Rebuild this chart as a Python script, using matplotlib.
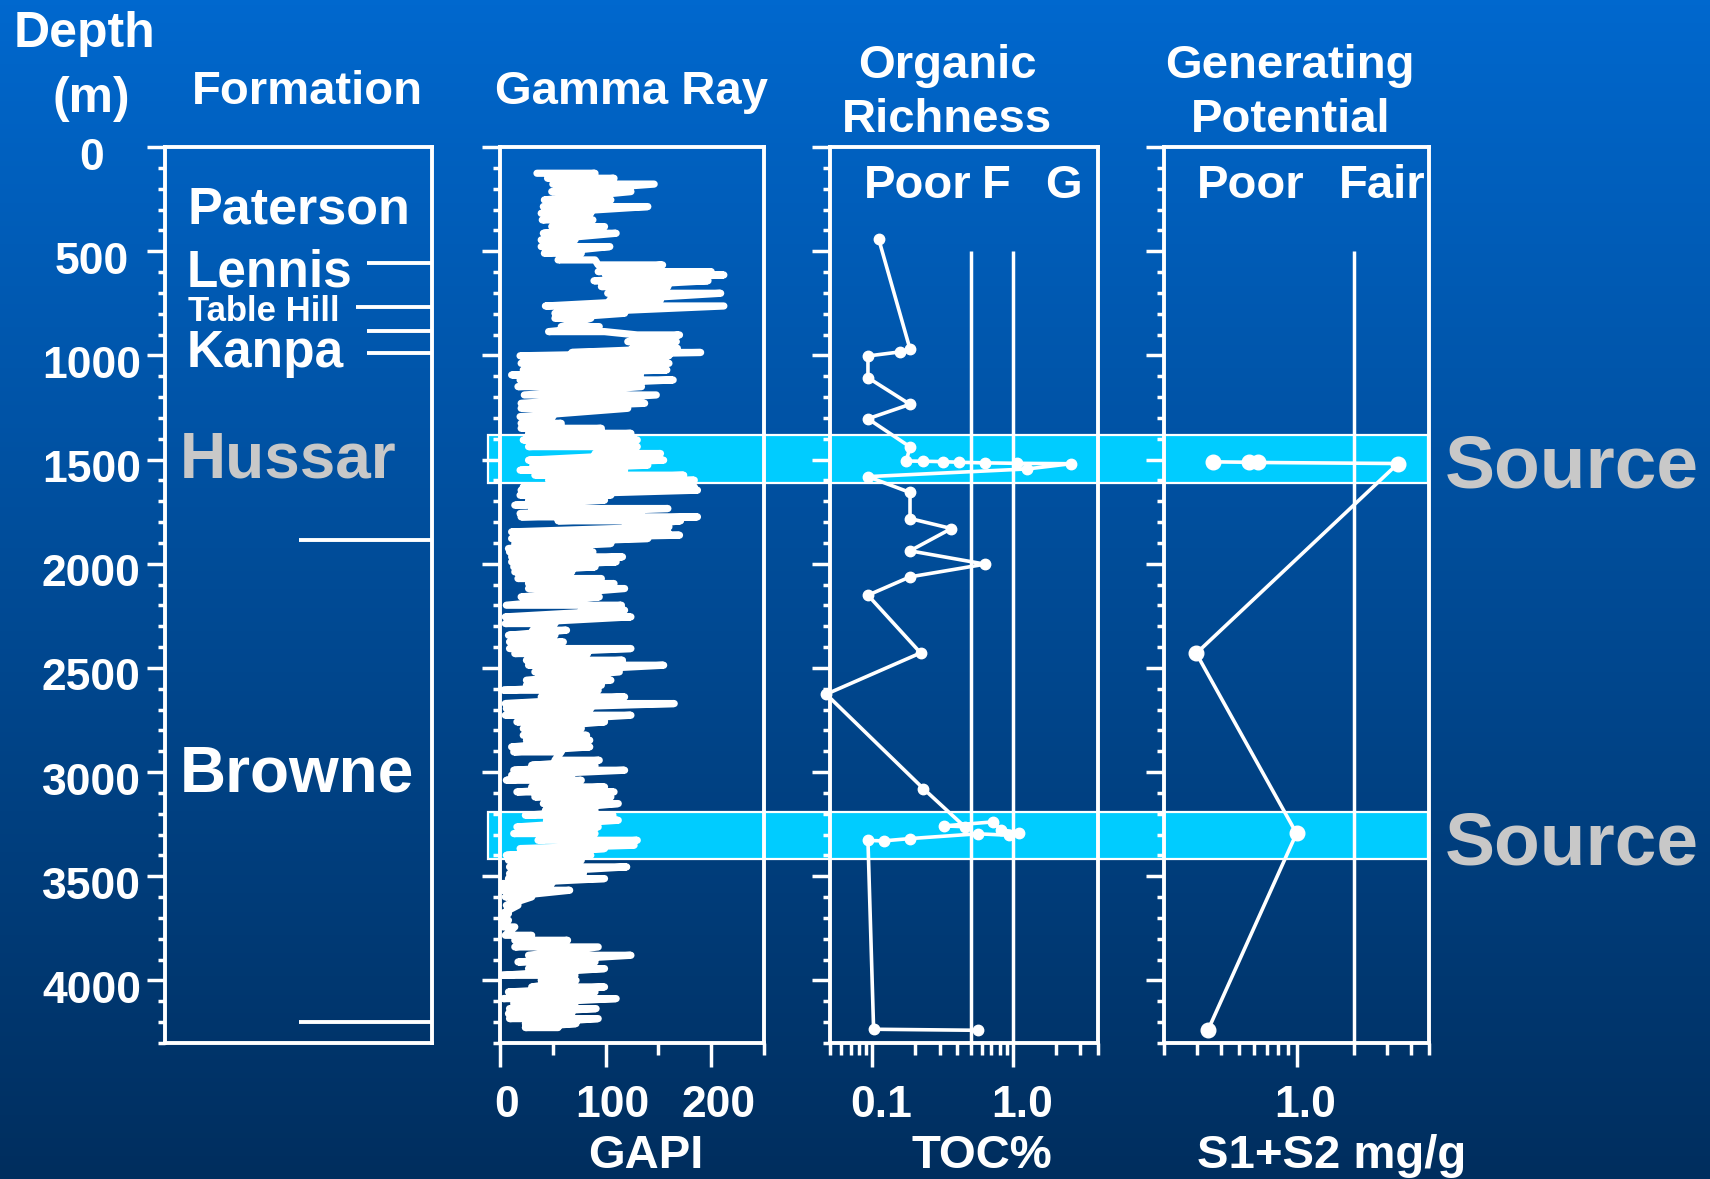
import numpy as np
import matplotlib
matplotlib.use("Agg")
import matplotlib.pyplot as plt
import matplotlib.transforms as mtransforms
from matplotlib.patches import Rectangle
from matplotlib.ticker import FixedLocator, NullFormatter, FixedFormatter

# ---------------- data ----------------
DEPTH_MAX = 4300
DEPTH_TICKS = [0, 500, 1000, 1500, 2000, 2500, 3000, 3500, 4000]
DEPTH_TICK_LABELS = ["0", "500", "1000", "1500", "2000", "2500", "3000", "3500", "4000"]

FORMATION_NAMES = ["Paterson", "Lennis", "Table Hill", "Kanpa", "Hussar", "Browne"]
FORMATION_BOUNDARIES = [557, 768, 883, 988, 1886, 4199]

SOURCE_TOP = [1382, 3191]
SOURCE_BASE = [1612, 3417]
SOURCE_LABELS = ["Source", "Source"]

GR_DEPTH = [126, 150, 178, 214, 254, 286, 318, 350, 382, 414, 446, 478, 510, 542,
            566, 598, 614, 642, 670, 702, 734, 763, 798, 822, 862, 886, 902, 934,
            966, 986, 1002, 1038, 1070, 1094, 1118, 1150, 1190, 1230, 1254, 1294,
            1326, 1350, 1374, 1406, 1438,
            1471, 1503, 1527, 1551, 1575, 1599, 1631, 1647, 1671, 1695, 1719, 1735,
            1759, 1775, 1794, 1823, 1847, 1863, 1879, 1903, 1927, 1943, 1967, 1991,
            2015, 2039, 2071, 2095, 2119, 2159, 2199, 2223, 2255, 2287, 2319, 2343,
            2375, 2407, 2431, 2463, 2487, 2519, 2559, 2583, 2607, 2639, 2671, 2695,
            2727, 2759, 2791, 2823, 2847, 2879,
            2903, 2943, 2967, 2991, 3015, 3039, 3071, 3095, 3119, 3151, 3183, 3207,
            3231, 3263, 3295, 3327, 3351, 3367, 3399, 3423, 3455, 3487, 3511, 3535,
            3567, 3599, 3639, 3679, 3711, 3743, 3783, 3807, 3839, 3879, 3911, 3943,
            3975, 3999, 4031, 4055, 4087, 4111, 4135, 4159, 4183, 4207, 4226]
GR_LOW = [35, 45, 50, 49, 42, 41, 39, 40, 49, 41, 39, 39, 42, 55,
          93, 93, 100, 89, 96, 102, 104, 43, 52, 52, 58, 46, 130, 121,
          125, 68, 19, 20, 22, 11, 19, 17, 23, 20, 20, 19,
          20, 20, 27, 22, 27,
          90, 27, 31, 19, 33, 46, 22, 20, 19, 27, 14, 30,
          19, 20, 55, 118, 11, 93, 11, 14, 8, 9, 11, 11,
          13, 14, 17, 27, 27, 20, 6, 77, 5, 5, 31, 8,
          9, 9, 14, 25, 27, 33, 25, 25, 3, 39, 5, 6,
          5, 16, 22, 22, 25, 11,
          13, 52, 30, 13, 11, 6, 30, 16, 33, 41, 43, 24,
          44, 16, 13, 36, 65, 19, 6, 8, 9, 9, 8, 2,
          2, 5, 6, 2, 2, 3, 5, 14, 14, 27, 17, 27,
          2, 39, 30, 8, 3, 13, 9, 8, 9, 24, 24]
GR_HIGH = [90, 108, 146, 124, 105, 140, 86, 88, 99, 110, 71, 104, 77, 90,
           154, 200, 212, 197, 159, 209, 152, 212, 118, 86, 94, 99, 170, 167,
           168, 190, 160, 160, 158, 133, 164, 134, 148, 137, 121, 50,
           58, 96, 124, 130, 130,
           152, 155, 140, 118, 174, 184, 184, 187, 105, 99, 74, 159,
           134, 187, 171, 160, 159, 170, 140, 105, 71, 88, 116, 110,
           90, 68, 96, 108, 118, 94, 115, 118, 124, 52, 63, 52,
           60, 124, 83, 116, 155, 113, 105, 96, 93, 118, 165, 86,
           124, 99, 77, 82, 85, 85,
           58, 94, 90, 118, 68, 77, 99, 108, 105, 112, 90, 107,
           112, 93, 90, 130, 127, 99, 86, 77, 120, 79, 99, 49,
           66, 30, 17, 8, 8, 14, 30, 64, 93, 124, 90, 99,
           71, 72, 99, 90, 110, 71, 91, 68, 93, 72, 55]
GR_TICKS = [0, 100, 200]
GR_TICK_LABELS = ["0", "100", "200"]

TOC_DEPTH = [443, 970, 983, 1003, 1107, 1235, 1304, 1439, 1507, 1508, 1510, 1513,
             1516, 1518, 1520, 1545, 1582, 1658, 1783, 1831, 1938, 2002, 2063, 2151,
             2428, 2626, 3079, 3262, 3258, 3239, 3276, 3292, 3303, 3296, 3319, 3330,
             3328, 4234, 4239]
TOC = [0.111, 0.185, 0.158, 0.093, 0.093, 0.185, 0.093, 0.185, 0.174, 0.230, 0.318, 0.412,
       0.632, 1.07, 2.57, 1.26, 0.093, 0.185, 0.185, 0.364, 0.185, 0.632, 0.185, 0.093,
       0.22, 0.047, 0.23, 0.452, 0.322, 0.715, 0.819, 1.10, 0.937, 0.56, 0.185, 0.12,
       0.093, 0.102, 0.56]
TOC_CUTOFFS = [0.5, 1.0]
TOC_TICKS = [0.1, 1.0]
TOC_TICK_LABELS = ["0.1", "1.0"]
TOC_CLASSES = ["Poor", "F", "G"]

S1S2_DEPTH = [1511, 1513, 1514, 1519, 2430, 3294, 4236]
S1S2 = [0.363, 0.56, 0.63, 3.43, 0.296, 1.0, 0.342]
S1S2_CUTOFFS = [2.0]
S1S2_TICKS = [1.0]
S1S2_TICK_LABELS = ["1.0"]
S1S2_CLASSES = ["Poor", "Fair"]
CUTOFF_TOP = 500

# ---------------- layout / style ----------------
W, H, DPI = 1710, 1179, 100
plt.rcParams['font.family'] = ['Liberation Sans', 'DejaVu Sans']
plt.rcParams['font.weight'] = 'bold'
WHITE = 'white'
GREY = '#c8c8c8'
CYAN = '#00ccff'
TOP_PX, BOT_PX = 147, 1043

fig = plt.figure(figsize=(W / DPI, H / DPI), dpi=DPI)

# gradient background
bg = fig.add_axes([0, 0, 1, 1], zorder=-10)
t = np.linspace(0, 1, 256)[:, None, None]
c_top = np.array([0, 104, 206]) / 255.0
c_bot = np.array([0, 46, 94]) / 255.0
img = c_top[None, None, :] * (1 - t) + c_bot[None, None, :] * t
img = np.repeat(img, 2, axis=1)
bg.imshow(img, aspect='auto', extent=[0, 1, 0, 1])
bg.set_axis_off()


def panel(x0, x1):
    ax = fig.add_axes([x0 / W, 1 - BOT_PX / H, (x1 - x0) / W, (BOT_PX - TOP_PX) / H], zorder=2)
    ax.patch.set_alpha(0)
    ax.set_ylim(DEPTH_MAX, 0)
    for s in ax.spines.values():
        s.set_color(WHITE)
        s.set_linewidth(2.8)
    ax.yaxis.set_major_locator(FixedLocator(DEPTH_TICKS))
    ax.yaxis.set_minor_locator(FixedLocator(np.arange(0, DEPTH_MAX + 1, 100)))
    ax.yaxis.set_minor_formatter(NullFormatter())
    ax.tick_params(axis='y', which='major', direction='out', length=13, width=2.5,
                   color=WHITE, left=True, right=False, labelleft=False)
    ax.tick_params(axis='y', which='minor', direction='out', length=5, width=2.5,
                   color=WHITE, left=True, right=False)
    ax.tick_params(axis='x', which='major', direction='out', length=17, width=2.5,
                   color=WHITE, labelcolor=WHITE, labelsize=32, pad=13, top=False)
    ax.tick_params(axis='x', which='minor', direction='out', length=8.6, width=2.5,
                   color=WHITE, top=False)
    return ax


ax_f = panel(165, 432)
ax_g = panel(500, 764)
ax_t = panel(830, 1098)
ax_s = panel(1164, 1429)

# formation panel
ax_f.set_xlim(0, 1)
ax_f.set_xticks([])
ax_f.set_yticks(DEPTH_TICKS, DEPTH_TICK_LABELS)
ax_f.tick_params(axis='y', which='major', labelleft=True, labelcolor=WHITE, labelsize=32, pad=40)
line_start = [0.758, 0.717, 0.758, 0.758, 0.502, 0.502]
for d, xs in zip(FORMATION_BOUNDARIES, line_start):
    ax_f.plot([xs, 1.0], [d, d], color=WHITE, lw=2.8, solid_capstyle='butt')
for lab in ax_f.get_yticklabels():
    lab.set_ha('center')
    lab.set_va('center')
off_y = mtransforms.ScaledTranslation(0, -0.11, fig.dpi_scale_trans)
for tk in ax_f.yaxis.get_major_ticks():
    tk.label1.set_transform(tk.label1.get_transform() + off_y)

# gamma ray panel
ax_g.set_xlim(0, 250)
ax_g.xaxis.set_major_locator(FixedLocator(GR_TICKS))
ax_g.xaxis.set_major_formatter(FixedFormatter(GR_TICK_LABELS))
ax_g.xaxis.set_minor_locator(FixedLocator([50, 150, 250]))
gr_x = np.column_stack([GR_LOW, GR_HIGH]).ravel()
gr_y = np.repeat(GR_DEPTH, 2)
ax_g.plot(gr_x, gr_y, color=WHITE, lw=5.2, solid_capstyle='round', solid_joinstyle='round',
          zorder=3)

# TOC panel
ax_t.set_xscale('log')
ax_t.set_xlim(0.05, 4.0)
ax_t.xaxis.set_major_locator(FixedLocator(TOC_TICKS))
ax_t.xaxis.set_major_formatter(FixedFormatter(TOC_TICK_LABELS))
ax_t.xaxis.set_minor_locator(FixedLocator([0.05, 0.06, 0.07, 0.08, 0.09, 0.2, 0.3, 0.4, 0.5,
                                           0.6, 0.7, 0.8, 0.9, 2, 3, 4]))
ax_t.xaxis.set_minor_formatter(NullFormatter())
ax_t.vlines(TOC_CUTOFFS, CUTOFF_TOP, DEPTH_MAX, color=WHITE, lw=2.5)
ax_t.plot(TOC, TOC_DEPTH, color=WHITE, lw=2.6, marker='o', ms=7.5, clip_on=False, zorder=3)

# S1+S2 panel
ax_s.set_xscale('log')
ax_s.set_xlim(0.2, 5.0)
ax_s.xaxis.set_major_locator(FixedLocator(S1S2_TICKS))
ax_s.xaxis.set_major_formatter(FixedFormatter(S1S2_TICK_LABELS))
ax_s.xaxis.set_minor_locator(FixedLocator([0.2, 0.3, 0.4, 0.5, 0.6, 0.7, 0.8, 0.9, 2, 3, 4, 5]))
ax_s.xaxis.set_minor_formatter(NullFormatter())
ax_s.vlines(S1S2_CUTOFFS, CUTOFF_TOP, DEPTH_MAX, color=WHITE, lw=2.5)
ax_s.plot(S1S2, S1S2_DEPTH, color=WHITE, lw=2.6, marker='o', ms=10.5, clip_on=False, zorder=3)

for ax, dx in ((ax_g, 0.07), (ax_t, 0.09), (ax_s, 0.09)):
    off_x = mtransforms.ScaledTranslation(dx, 0, fig.dpi_scale_trans)
    for tk in ax.xaxis.get_major_ticks():
        tk.label1.set_transform(tk.label1.get_transform() + off_x)

# source bands (span gamma to S1+S2 panels)
band_tr = mtransforms.blended_transform_factory(fig.transFigure, ax_g.transData)
for top, base in zip(SOURCE_TOP, SOURCE_BASE):
    r = Rectangle((488 / W, top), (1428 - 488) / W, base - top, transform=band_tr,
                  facecolor=CYAN, edgecolor=WHITE, lw=1.6, zorder=1)
    fig.add_artist(r)


def ftext(x, y_base, s, size, color=WHITE, ha='center'):
    fig.text(x / W, 1 - y_base / H, s, fontsize=size, color=color, ha=ha, va='baseline',
             fontweight='bold')


# headers
ftext(84, 47, "Depth", 36)
ftext(91, 112, "(m)", 36)
ftext(307, 104, "Formation", 34)
ftext(631, 104, "Gamma Ray", 34)
ftext(947, 78, "Organic", 34)
ftext(947, 132, "Richness", 34)
ftext(1290, 78, "Generating", 34)
ftext(1291, 132, "Potential", 34)

# class labels
for name, x in zip(TOC_CLASSES, [918, 996, 1063]):
    ftext(x, 198, name, 34)
for name, x in zip(S1S2_CLASSES, [1251, 1382]):
    ftext(x, 198, name, 34)

# formation names
form_style = [(187, 223, 37.5, WHITE), (187, 286, 37, WHITE), (188, 321, 25, WHITE),
              (187, 367, 37, WHITE), (180, 477, 46, GREY), (180, 791, 46, WHITE)]
for name, (x, yb, sz, col) in zip(FORMATION_NAMES, form_style):
    ftext(x, yb, name, sz, color=col, ha='left')

# source labels
for lab, top, base in zip(SOURCE_LABELS, SOURCE_TOP, SOURCE_BASE):
    yc = TOP_PX + (top + base) / 2 / DEPTH_MAX * (BOT_PX - TOP_PX) + 2
    ftext(1445, yc + 27, lab, 54, color=GREY, ha='left')

# axis titles
ftext(646, 1168, "GAPI", 34)
ftext(982, 1168, "TOC%", 34)
ftext(1332, 1168, "S1+S2 mg/g", 34)

fig.savefig("out.png", dpi=DPI)
